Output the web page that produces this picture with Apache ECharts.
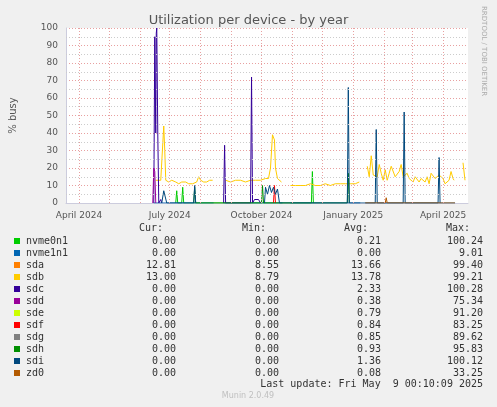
<!DOCTYPE html><html><head><meta charset="utf-8">
<script src="https://cdn.jsdelivr.net/npm/echarts@6/dist/echarts.min.js"></script>
<style>body{margin:0;background:#f0f0f0}#c{width:497px;height:407px}</style></head><body><div id="c"></div><script>
// day offsets from 2024-03-19
const names=['nvme0n1','nvme1n1','sda','sdb','sdc','sdd','sde','sdf','sdg','sdh','sdi','zd0'];
const colors=['#00cc00','#0066b3','#ff8000','#ffcc00','#330099','#990099','#ccff00','#ff0000','#808080','#008f00','#00487d','#b35a00'];
const curV=['0.00','0.00','12.81','13.00','0.00','0.00','0.00','0.00','0.00','0.00','0.00','0.00'];
const minV=['0.00','0.00','8.55','8.79','0.00','0.00','0.00','0.00','0.00','0.00','0.00','0.00'];
const avgV=['0.21','0.00','13.66','13.78','2.33','0.38','0.79','0.84','0.85','0.93','1.36','0.08'];
const maxV=['100.24','9.01','99.40','99.21','100.28','75.34','91.20','83.25','89.62','95.83','100.12','33.25'];
const tickDays=[13,104,196,288,378];
const tickLabels=['April 2024','July 2024','October 2024','January 2025','April 2025'];
const monthDays=[13,43,74,104,135,166,196,227,257,288,319,347,378];
const sdb=[[90,13],[92,13],[95,13],[97,14],[98,44],[99,30],[100,13],[103,12],[106,13],[110,12],[113,11],[116,12],[118,13],[120,12],[123,11],[127,11],[131,12],[133,15],[135,13],[138,12],[141,12],[144,13],[147,13],[148,null],
[160,13],[165,12],[170,13],[175,13],[180,12],[185,13],[190,13],[195,13],[200,14],[203,14],[205,20],[207,39],[209,36],[210,20],[212,14],[214,15],[216,12],[217,null],
[225,10],[230,10],[235,10],[240,10],[245,11],[250,10],[255,10],[260,11],[265,10],[270,11],[275,11],[280,11],[285,11],[290,11],[294,12],[295,null],
[302,21],[304,15],[306,27],[308,16],[310,17],[312,15],[314,22],[316,17],[318,13],[320,19],[322,13],[324,17],[326,21],[328,22],[330,15],[332,14],[334,18],[336,22],[338,15],[340,16],[342,17],[344,14],[346,15],[348,12],[350,15],[352,16],[354,12],[356,14],[358,13],[360,12],[362,15],[364,11],[366,17],[368,16],[370,14],[372,15],[374,16],[376,15],[378,14],[380,11],[382,12],[384,13],[386,18],[388,14],[389,13],[390,null],[398,23],[400,13]];
const sdc=[[88,0],[89,95],[89.5,94],[90,40],[90.5,97],[91,100],[92,40],[93,0],[94,0],[95,2],[96,0],[148,null],[158,0],[159,33],[160,0],[185,0],[186,72],[187,0],[189,2],[191,1],[193,2],[195,0]];
const sdd=[[87,0],[88,20],[89,18],[90,0]];
const sdi=[[96,0],[98,7],[100,6],[101,0],[128,0],[129,10],[130,0],[148,null],[199,0],[200,9],[202,5],[204,10],[206,6],[208,9],[210,5],[212,8],[214,0],[282,0],[283,66],[284,0],[310,0],[311,42],[312,0],[338,0],[339,52],[340,0],[373,0],[374,26],[375,0]];
const nvme0=[[110,0],[111,7],[112,0],[116,0],[117,9],[118,0],[246,0],[247,18],[248,0]];
const sdh=[[128,0],[129,9],[130,0],[196,0],[197,10],[198,0],[282,0],[283,17],[284,0]];
const zd0=[[300,0],[320,0],[321,3],[322,0],[390,0]];
const sdf=[[208,0],[209,10],[210,0]];
const nvme1=[[88,0],[148,0],[148,null],[158,0],[217,0],[217,null],[225,0],[295,0],[295,null],[300,0],[390,0]];
const yTicks=[0,10,20,30,40,50,60,70,80,90,100];
const ch=echarts.init(document.getElementById('c'));
const mono='DejaVu Sans Mono',fs=10,rowY=i=>241+i*12;
const g=[];
names.forEach((n,i)=>{
 g.push({type:'rect',shape:{x:14,y:rowY(i)-3,width:6,height:6},style:{fill:colors[i]}});
 g.push({type:'text',x:26,y:rowY(i),style:{text:n,font:fs+'px '+mono,fill:'#333',textVerticalAlign:'middle'}});
 [[curV,176],[minV,279],[avgV,381],[maxV,483]].forEach(([a,x])=>g.push({type:'text',x:x,y:rowY(i),style:{text:a[i],font:fs+'px '+mono,fill:'#333',textAlign:'right',textVerticalAlign:'middle'}}));
});
[['Cur:',163],['Min:',266],['Avg:',368],['Max:',470]].forEach(([t,x])=>g.push({type:'text',x:x,y:228,style:{text:t,font:fs+'px '+mono,fill:'#333',textAlign:'right',textVerticalAlign:'middle'}}));
g.push({type:'text',x:483,y:384,style:{text:'Last update: Fri May  9 00:10:09 2025',font:fs+'px '+mono,fill:'#333',textAlign:'right',textVerticalAlign:'middle'}});
g.push({type:'text',x:248,y:396,style:{text:'Munin 2.0.49',font:'8px DejaVu Sans',fill:'#c0c0c0',textAlign:'center',textVerticalAlign:'middle'}});
g.push({type:'text',x:487,y:6,rotation:-Math.PI/2,style:{text:'RRDTOOL / TOBI OETIKER',font:'7px DejaVu Sans',fill:'#aaa'}});
const map={nvme0n1:nvme0,nvme1n1:nvme1,sdb:sdb,sdc:sdc,sdd:sdd,sdf:sdf,sdh:sdh,sdi:sdi,zd0:zd0};
const series=names.filter(n=>map[n]).map(n=>({name:n,type:'line',data:map[n],showSymbol:false,connectNulls:false,lineStyle:{width:1,color:colors[names.indexOf(n)]},animation:false}));
series.unshift({type:'line',data:[],silent:true,markLine:{symbol:'none',silent:true,animation:false,label:{show:false},
 data:monthDays.map(d=>({xAxis:d,lineStyle:{color:'#e8a0a0',type:[1,2],width:1}})).concat([5,15,25,35,45,55,65,75,85,95].map(v=>({yAxis:v,lineStyle:{color:'#ccc',type:[1,2],width:1}})))}});
ch.setOption({backgroundColor:'#f0f0f0',animation:false,
 title:{text:'Utilization per device - by year',left:'center',top:9,textStyle:{fontFamily:'DejaVu Sans',fontSize:13,fontWeight:'normal',color:'#555'}},
 grid:{left:66,top:28,width:402,height:175,backgroundColor:'#fff',show:true,borderWidth:0},
 xAxis:{type:'value',min:0,max:403,axisLine:{lineStyle:{color:'#ccd'}},axisTick:{show:false},splitLine:{show:false},
  axisLabel:{customValues:tickDays,formatter:v=>tickLabels[tickDays.indexOf(v)],fontFamily:'DejaVu Sans',fontSize:9,color:'#555'}},
 yAxis:{type:'value',min:0,max:100,interval:10,name:'% busy',nameLocation:'middle',nameGap:48,nameTextStyle:{fontFamily:'DejaVu Sans',fontSize:10,color:'#555'},
  axisLine:{show:true,lineStyle:{color:'#ccd'}},axisTick:{show:false},axisLabel:{fontFamily:'DejaVu Sans',fontSize:9,color:'#555'},
  splitLine:{lineStyle:{color:'#e8a0a0',type:[1,2]}}},
 series:series,graphic:g});
</script></body></html>
